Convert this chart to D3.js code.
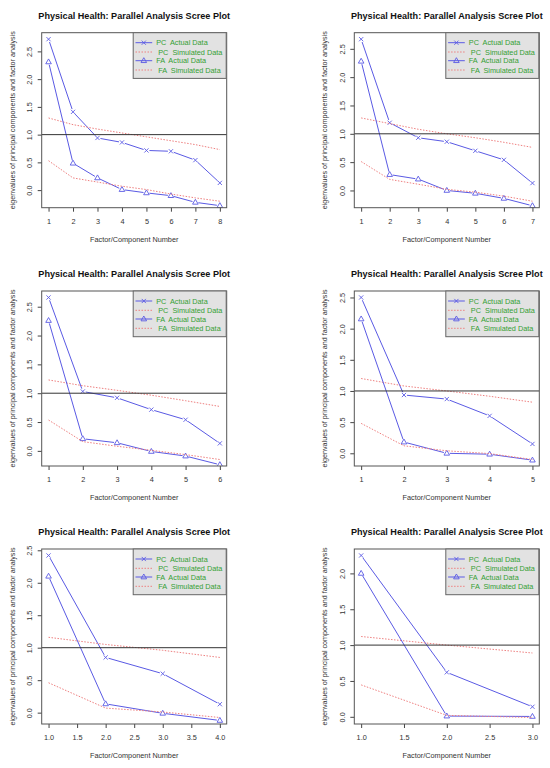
<!DOCTYPE html>
<html>
<head>
<meta charset="utf-8">
<script src="https://cdn.jsdelivr.net/npm/d3@7"></script>
<style>
  body { margin: 0; background: #fff; }
  svg text { font-family: "Liberation Sans", Arial, sans-serif; }
</style>
</head>
<body>
<div id="chart"></div>
<script>
// six parallel analysis scree plots
const panelTitle = 'Physical Health: Parallel Analysis Scree Plot';
const xLabel = 'Factor/Component Number';
const yLabel = 'eigenvalues of principal components and factor analysis';
const legendLabels = ['PC  Actual Data', ' PC  Simulated Data', 'FA  Actual Data', ' FA  Simulated Data'];

const factorCounts = [8, 7, 6, 5, 4, 3];

const pcActual = [
    [2.72, 1.41, 0.94, 0.86, 0.715, 0.70, 0.54, 0.13],
    [2.67, 1.195, 0.93, 0.86, 0.70, 0.54, 0.13],
    [2.66, 1.03, 0.92, 0.715, 0.54, 0.13],
    [2.50, 0.935, 0.87, 0.60, 0.15],
    [2.42, 0.85, 0.60, 0.13],
    [2.25, 0.62, 0.14]
];
const pcSimulated = [
    [1.30, 1.18, 1.10, 1.03, 0.96, 0.89, 0.82, 0.73],
    [1.28, 1.18, 1.08, 1.00, 0.93, 0.85, 0.76],
    [1.23, 1.13, 1.05, 0.965, 0.87, 0.77],
    [1.20, 1.08, 1.00, 0.915, 0.82],
    [1.16, 1.05, 0.96, 0.85],
    [1.12, 1.00, 0.89]
];
const faActual = [
    [2.31, 0.485, 0.22, 0.01, -0.05, -0.10, -0.22, -0.28],
    [2.28, 0.28, 0.20, 0.00, -0.05, -0.14, -0.27],
    [2.26, 0.21, 0.14, -0.01, -0.09, -0.24],
    [2.155, 0.18, 0.00, -0.015, -0.11],
    [2.10, 0.135, -0.01, -0.12],
    [2.00, 0.01, 0.005]
];
const faSimulated = [
    [0.53, 0.22, 0.145, 0.07, 0.01, -0.07, -0.14, -0.20],
    [0.51, 0.195, 0.11, 0.02, -0.03, -0.10, -0.19],
    [0.535, 0.16, 0.08, 0.01, -0.065, -0.15],
    [0.48, 0.12, 0.04, -0.005, -0.10],
    [0.46, 0.07, 0.01, -0.075],
    [0.445, 0.02, -0.01]
];

const width = 550;
const height = 768;
const colLeft = [41.7, 354.3];
const rowTop = [32.7, 291, 549];
const boxW = 185;
const boxH = 175;

const blue = '#5a5ae4';
const red = '#ee8080';
const green = '#34a034';

const svg = d3.select('#chart')
    .append('svg')
    .attr('width', width)
    .attr('height', height);

svg.append('rect')
    .attr('width', width)
    .attr('height', height)
    .attr('fill', '#fff');

factorCounts.forEach(function(n, p) {
    const left = colLeft[p % 2];
    const top = rowTop[Math.floor(p / 2)];
    drawPanel(p, n, left, top);
});

// R style range: data extent plus 4% each side
function padExtent(lo, hi) {
    const pad = (hi - lo) * 0.04;
    return [lo - pad, hi + pad];
}

function drawPanel(p, n, left, top) {
    const g = svg.append('g')
        .attr('transform', `translate(${left},${top})`);

    const xs = d3.range(1, n + 1);
    const xScale = d3.scaleLinear()
        .domain(padExtent(1, n))
        .range([0, boxW]);
    const yScale = d3.scaleLinear()
        .domain(padExtent(d3.min(faSimulated[p]), d3.max(pcActual[p])))
        .range([boxH, 0]);

    const clipId = 'clip' + p;
    g.append('clipPath').attr('id', clipId)
        .append('rect').attr('width', boxW).attr('height', boxH);

    const plot = g.append('g').attr('clip-path', `url(#${clipId})`);

    // actual data: R type "b" lines, with gaps round the points
    function gappedLine(vals, cls) {
        const pts = vals.map((v, i) => [xScale(xs[i]), yScale(v)]);
        const gap = 3;
        const segs = d3.pairs(pts).map(function(pair) {
            const [a, b] = pair;
            const dx = b[0] - a[0], dy = b[1] - a[1];
            const len = Math.sqrt(dx * dx + dy * dy);
            const ux = dx / len, uy = dy / len;
            return [[a[0] + ux * gap, a[1] + uy * gap], [b[0] - ux * gap, b[1] - uy * gap]];
        }).filter(s => Math.hypot(s[1][0] - s[0][0], s[1][1] - s[0][1]) > 0);
        plot.selectAll('.' + cls)
            .data(segs)
            .join('line')
            .attr('class', cls)
            .attr('x1', d => d[0][0]).attr('y1', d => d[0][1])
            .attr('x2', d => d[1][0]).attr('y2', d => d[1][1])
            .attr('stroke', blue)
            .attr('stroke-width', 1);
        return pts;
    }

    function dottedLine(vals) {
        plot.append('path')
            .datum(vals)
            .attr('d', d3.line()
                .x((d, i) => xScale(xs[i]))
                .y(d => yScale(d)))
            .attr('fill', 'none')
            .attr('stroke', red)
            .attr('stroke-width', 1)
            .attr('stroke-dasharray', '1.5,1.5');
    }

    const pcPts = gappedLine(pcActual[p], 'pcseg');
    plot.selectAll('.pcmark')
        .data(pcPts)
        .join('path')
        .attr('class', 'pcmark')
        .attr('d', d => crossPath(d[0], d[1], 2.1))
        .attr('stroke', blue)
        .attr('stroke-width', 0.9)
        .attr('fill', 'none');

    dottedLine(pcSimulated[p]);

    const faPts = gappedLine(faActual[p], 'faseg');
    plot.selectAll('.famark')
        .data(faPts)
        .join('path')
        .attr('class', 'famark')
        .attr('d', d => trianglePath(d[0], d[1], 2.8))
        .attr('stroke', blue)
        .attr('stroke-width', 0.9)
        .attr('fill', 'none');

    dottedLine(faSimulated[p]);

    g.append('line')
        .attr('x1', 0).attr('x2', boxW)
        .attr('y1', yScale(1)).attr('y2', yScale(1))
        .attr('stroke', '#333')
        .attr('stroke-width', 1);

    // axes
    const xTicks = xScale.ticks(Math.max(n, 6)).filter(t => t >= 1 && t <= n);
    const xStep = xTicks[1] - xTicks[0];
    const xFormat = xStep < 1 ? d3.format('.1f') : d3.format('d');
    const xAxis = g.append('g')
        .attr('transform', `translate(0,${boxH})`)
        .call(d3.axisBottom(xScale).tickValues(xTicks).tickFormat(xFormat).tickSize(4).tickPadding(7));
    xAxis.select('.domain').remove();

    const yTicks = yScale.ticks(5);
    const yAxis = g.append('g')
        .call(d3.axisLeft(yScale).tickValues(yTicks).tickFormat(d3.format('.1f')).tickSize(4));
    yAxis.select('.domain').remove();
    yAxis.selectAll('text')
        .attr('x', null).attr('dy', null)
        .attr('text-anchor', 'middle')
        .attr('transform', 'translate(-9.8,0) rotate(-90)');

    g.selectAll('.tick line').attr('stroke', '#444');
    g.selectAll('.tick text')
        .attr('fill', '#333')
        .style('font-size', '7.3px')
        .style('font-family', '"Liberation Sans", Arial, sans-serif');

    // plot box
    g.append('rect')
        .attr('width', boxW)
        .attr('height', boxH)
        .attr('fill', 'none')
        .attr('stroke', '#555')
        .attr('stroke-width', 1);

    // legend
    const lgW = 93, lgH = 45.7;
    const lg = g.append('g').attr('transform', `translate(${boxW - lgW - 0.5},0)`);
    lg.append('rect')
        .attr('width', lgW)
        .attr('height', lgH)
        .attr('fill', '#e2e2e2')
        .attr('stroke', '#666')
        .attr('stroke-width', 1);
    const rowY = [10, 19.3, 28, 37.3];
    legendLabels.forEach(function(label, i) {
        const y = rowY[i];
        const actual = i % 2 === 0;
        lg.append('line')
            .attr('x1', 2.3).attr('x2', 19)
            .attr('y1', y).attr('y2', y)
            .attr('stroke', actual ? blue : red)
            .attr('stroke-width', 1)
            .attr('stroke-dasharray', actual ? null : '1.5,1.5');
        if (i === 0) {
            lg.append('path').attr('d', crossPath(10.6, y, 2.1))
                .attr('stroke', blue).attr('stroke-width', 0.9).attr('fill', 'none');
        }
        if (i === 2) {
            lg.append('path').attr('d', trianglePath(10.6, y, 2.8))
                .attr('stroke', blue).attr('stroke-width', 0.9).attr('fill', 'none');
        }
        lg.append('text')
            .attr('x', 23)
            .attr('y', y + 2.6)
            .style('white-space', 'pre')
            .style('font-size', '7.3px')
            .attr('fill', green)
            .text(label);
    });

    // titles
    g.append('text')
        .attr('x', boxW / 2)
        .attr('y', -14.2)
        .attr('text-anchor', 'middle')
        .style('font-size', '9.1px')
        .style('font-weight', 'bold')
        .attr('fill', '#111')
        .text(panelTitle);

    g.append('text')
        .attr('x', boxW / 2)
        .attr('y', boxH + 34.3)
        .attr('text-anchor', 'middle')
        .style('font-size', '7.3px')
        .attr('fill', '#333')
        .text(xLabel);

    g.append('text')
        .attr('transform', `translate(-27,${boxH / 2}) rotate(-90)`)
        .attr('text-anchor', 'middle')
        .style('font-size', '7.2px')
        .attr('fill', '#333')
        .text(yLabel);
}

function crossPath(x, y, r) {
    return `M${x - r},${y - r}L${x + r},${y + r}M${x - r},${y + r}L${x + r},${y - r}`;
}

function trianglePath(x, y, r) {
    const h = r * 1.732;
    return `M${x},${y - h * 0.62}L${x + r},${y + h * 0.38}L${x - r},${y + h * 0.38}Z`;
}
</script>
</body>
</html>
